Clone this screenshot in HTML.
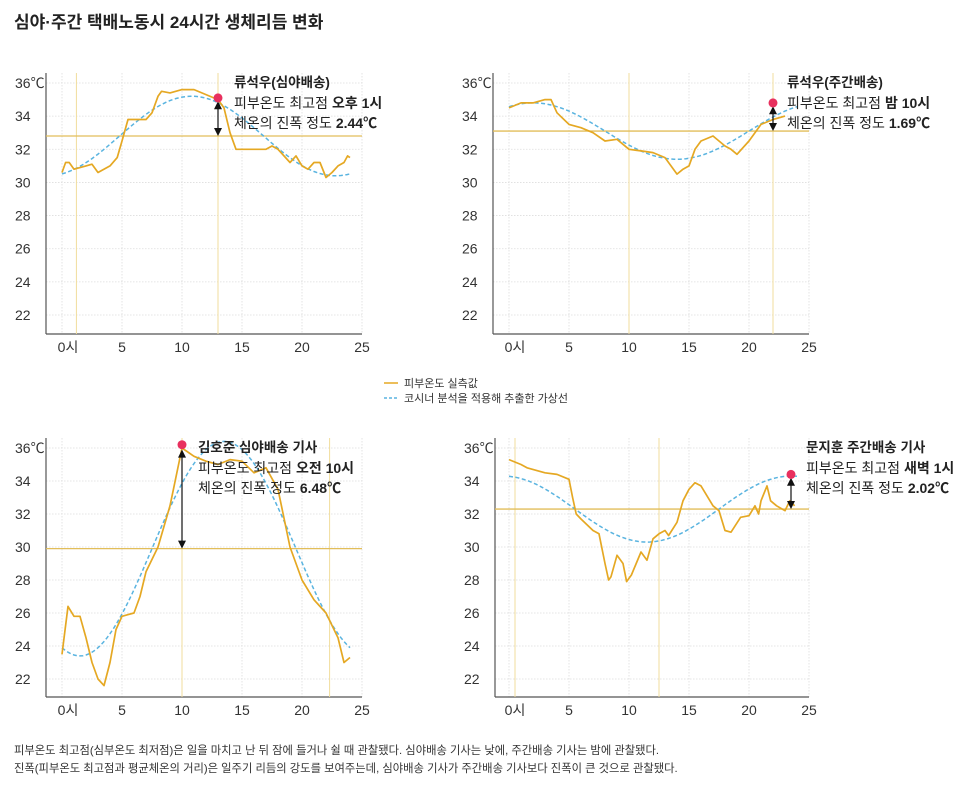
<!DOCTYPE html>
<html><head><meta charset="utf-8">
<style>
body{margin:0;background:#fff;width:970px;height:790px;overflow:hidden;font-family:"Liberation Sans","Noto Sans CJK KR",sans-serif;color:#222}
svg{position:absolute;left:0;top:0}
text{font-family:"Liberation Sans","Noto Sans CJK KR",sans-serif}
</style></head><body>
<svg id="s" width="970" height="790" xmlns="http://www.w3.org/2000/svg">
<text x="14" y="28" font-size="17" font-weight="bold" fill="#222">심야·주간 택배노동시 24시간 생체리듬 변화</text>
<line x1="384" y1="383" x2="398" y2="383" stroke="#e5a823" stroke-width="1.5"/>
<text x="404" y="387" font-size="11" fill="#333">피부온도 실측값</text>
<line x1="384" y1="398" x2="398" y2="398" stroke="#5ab4e0" stroke-width="1.5" stroke-dasharray="3,2"/>
<text x="404" y="402" font-size="11" fill="#333">코시너 분석을 적용해 추출한 가상선</text>
<text x="14" y="754" font-size="11.3" fill="#333">피부온도 최고점(심부온도 최저점)은 일을 마치고 난 뒤 잠에 들거나 쉴 때 관찰됐다. 심야배송 기사는 낮에, 주간배송 기사는 밤에 관찰됐다.</text>
<text x="14" y="772" font-size="11.3" fill="#333">진폭(피부온도 최고점과 평균체온의 거리)은 일주기 리듬의 강도를 보여주는데, 심야배송 기사가 주간배송 기사보다 진폭이 큰 것으로 관찰됐다.</text>
</svg>
<script>
const S=document.getElementById('s');const NS='http://www.w3.org/2000/svg';
function el(t,a,txt){const e=document.createElementNS(NS,t);for(const k in a)e.setAttribute(k,a[k]);if(txt!==undefined)e.innerHTML=txt;S.appendChild(e);return e;}
const charts=[
{ax:46,x0:62,y36:83,y22:315,bot:334,mean:32.8,amp:2.4,pk:10.8,vl:[1.2,13],dot:[13,35.1],ar:[34.9,32.8],tx:234,
 t:['류석우(심야배송)','피부온도 최고점 <tspan font-weight="bold">오후 1시</tspan>','체온의 진폭 정도 <tspan font-weight="bold">2.44℃</tspan>'],
 d:[[0,30.6],[0.3,31.2],[0.6,31.2],[1,30.8],[2,31],[2.5,31.1],[3,30.6],[4,31],[4.6,31.5],[5,32.5],[5.5,33.8],[7,33.8],[7.5,34.2],[8,35.2],[8.3,35.5],[9,35.4],[10,35.6],[11,35.6],[12,35.3],[13,35],[13.5,34.5],[14,33],[14.5,32],[17,32],[17.5,32.2],[18,32],[19,31.2],[19.5,31.6],[20,31],[20.5,30.8],[21,31.2],[21.5,31.2],[22,30.3],[22.5,30.6],[23,31],[23.5,31.2],[23.8,31.6],[24,31.5]]},
{ax:493,x0:509,y36:83,y22:315,bot:334,mean:33.1,amp:1.7,pk:2,vl:[10,22],dot:[22,34.8],ar:[34.6,33.1],tx:787,
 t:['류석우(주간배송)','피부온도 최고점 <tspan font-weight="bold">밤 10시</tspan>','체온의 진폭 정도 <tspan font-weight="bold">1.69℃</tspan>'],
 d:[[0,34.5],[1,34.8],[2,34.8],[3,35],[3.5,35],[4,34.2],[5,33.5],[6,33.3],[7,33],[8,32.5],[9,32.6],[10,32],[11,31.9],[12,31.8],[13,31.5],[14,30.5],[14.5,30.8],[15,31],[15.5,32],[16,32.5],[17,32.8],[18,32.2],[18.5,32],[19,31.7],[20,32.5],[21,33.5],[22,33.8],[23,34]]},
{ax:46,x0:62,y36:448,y22:679,bot:697,mean:29.9,amp:6.5,pk:13.5,vl:[10,22.3],dot:[10,36.2],ar:[35.9,29.9],tx:198,
 t:['김호준 심야배송 기사','피부온도 최고점 <tspan font-weight="bold">오전 10시</tspan>','체온의 진폭 정도 <tspan font-weight="bold">6.48℃</tspan>'],
 d:[[0,23.5],[0.5,26.4],[1,25.8],[1.5,25.8],[2,24.5],[2.5,23],[3,22],[3.5,21.6],[4,23],[4.5,25],[5,25.8],[6,26],[6.5,27],[7,28.5],[8,30],[9,32.5],[10,36],[11,35.5],[12,35.2],[13,35],[14,35.3],[15,35.2],[16,34.5],[17,34.8],[18,33.5],[19,30],[20,28],[21,26.8],[22,26],[23,24.5],[23.5,23],[24,23.3]]},
{ax:495,x0:509,y36:448,y22:679,bot:697,mean:32.3,amp:2,pk:23.5,vl:[0.5,12.5],dot:[23.5,34.4],ar:[34.2,32.3],tx:806,
 t:['문지훈 주간배송 기사','피부온도 최고점 <tspan font-weight="bold">새벽 1시</tspan>','체온의 진폭 정도 <tspan font-weight="bold">2.02℃</tspan>'],
 d:[[0,35.3],[1,35],[1.5,34.8],[3,34.5],[4,34.4],[5,34.1],[5.3,33],[5.6,32],[6,31.7],[7,31],[7.5,30.8],[8,29],[8.3,28],[8.5,28.2],[9,29.5],[9.5,29],[9.8,27.9],[10.2,28.3],[11,29.7],[11.5,29.2],[12,30.5],[12.5,30.8],[13,31],[13.3,30.7],[14,31.5],[14.5,32.8],[15,33.5],[15.5,33.9],[16,33.7],[17,32.5],[17.5,32.2],[18,31],[18.5,30.9],[19.3,31.8],[20,31.9],[20.5,32.5],[20.8,32],[21,32.8],[21.5,33.7],[21.8,32.8],[22.3,32.5],[23,32.2],[23.4,32.8],[23.8,32.5]]}
];
charts.forEach(c=>{
 const X=h=>c.x0+h*(300/25), Y=v=>c.y22+(v-22)*(c.y36-c.y22)/14;
 const right=X(25);
 for(let v=22;v<=36;v+=2){el('line',{x1:c.ax,x2:right,y1:Y(v),y2:Y(v),stroke:'#ddd','stroke-width':0.8,'stroke-dasharray':'1.5,1.5'});
  el('text',{x:c.ax-31,y:Y(v)+5,'font-size':14,fill:'#333'},v==36?'36℃':v);}
 for(let h=0;h<=25;h+=5){el('line',{x1:X(h),x2:X(h),y1:c.y36-10,y2:c.bot,stroke:'#ddd','stroke-width':0.8,'stroke-dasharray':'1.5,1.5'});
  el('text',{x:X(h)+(h==0?6:0),y:c.bot+18,'font-size':14,'text-anchor':'middle',fill:'#333'},h==0?'0시':h);}
 el('line',{x1:c.ax,x2:c.ax,y1:c.y36-10,y2:c.bot,stroke:'#555','stroke-width':1.2});
 el('line',{x1:c.ax,x2:right,y1:c.bot,y2:c.bot,stroke:'#555','stroke-width':1.2});
 c.vl.forEach(h=>el('line',{x1:X(h),x2:X(h),y1:c.y36-10,y2:c.bot,stroke:'#f0dc9c','stroke-width':1}));
 el('line',{x1:c.ax,x2:right,y1:Y(c.mean),y2:Y(c.mean),stroke:'#e2be5a','stroke-width':1.3});
 let p=[];for(let h=0;h<=24;h+=0.25)p.push(X(h).toFixed(1)+','+Y(c.mean+c.amp*Math.cos(2*Math.PI*(h-c.pk)/24)).toFixed(1));
 el('polyline',{points:p.join(' '),fill:'none',stroke:'#5ab4e0','stroke-width':1.5,'stroke-dasharray':'4,2.5'});
 el('polyline',{points:c.d.map(q=>X(q[0]).toFixed(1)+','+Y(q[1]).toFixed(1)).join(' '),fill:'none',stroke:'#e5a823','stroke-width':1.7,'stroke-linejoin':'round'});
 const ax=X(c.dot[0]),a1=Y(c.ar[0]),a2=Y(c.ar[1]);
 el('line',{x1:ax,x2:ax,y1:a1+6,y2:a2-6,stroke:'#111','stroke-width':1.2});
 el('polygon',{points:`${ax},${a1} ${ax-4},${a1+8} ${ax+4},${a1+8}`,fill:'#111'});
 el('polygon',{points:`${ax},${a2} ${ax-4},${a2-8} ${ax+4},${a2-8}`,fill:'#111'});
 el('circle',{cx:ax,cy:Y(c.dot[1]),r:4.5,fill:'#e8305e'});
 const ty=c.y36+4;
 el('text',{x:c.tx,y:ty,'font-size':13.5,'font-weight':'bold',fill:'#222'},c.t[0]);
 el('text',{x:c.tx,y:ty+21,'font-size':14,fill:'#222'},c.t[1]);
 el('text',{x:c.tx,y:ty+41,'font-size':14,fill:'#222'},c.t[2]);
});
</script>
</body></html>
